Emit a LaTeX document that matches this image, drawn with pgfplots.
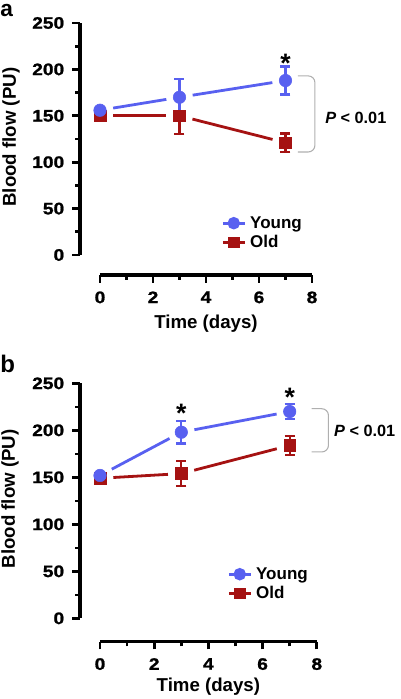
\documentclass[border=0pt]{standalone}
\usepackage{fontspec}
\setmainfont{Liberation Sans}
\newfontfamily\tickfont{Liberation Sans Bold}[FakeStretch=1.15, FakeBold=1.2]
\usepackage{pgfplots}
\pgfplotsset{compat=1.18}
\definecolor{myblue}{RGB}{88,96,240}
\definecolor{myred}{RGB}{165,18,18}
\definecolor{brk}{RGB}{175,175,175}
\tikzset{axln/.style={line width=2.6pt, black}}
\pgfplotsset{
  panel/.style={
    enlargelimits=false, clip=false,
    separate axis lines,
    axis x line*=bottom, axis y line*=left,
    axis line style={draw=none},
    tick align=outside,
    major tick length=5.8pt, minor tick length=3.4pt,
    every tick/.style={black, line width=2pt},
    xtick={0,2,4,6,8}, minor x tick num=1,
    ytick={0,50,100,150,200,250}, minor y tick num=1,
    xticklabel={\pgfmathprintnumber[assume math mode=true]{\tick}},
    yticklabel={\pgfmathprintnumber[assume math mode=true]{\tick}},
    ticklabel style={font=\tickfont\fontsize{12.5}{13}\selectfont, text=black},
    xticklabel style={yshift=-3pt},
    yticklabel style={xshift=-2.5pt},
    label style={font=\bfseries\fontsize{14}{16}\selectfont},
    legend style={draw=none, fill=none, inner sep=0pt, column sep=3pt, row sep=4pt,
      font=\bfseries\fontsize{12.75}{14}\selectfont, cells={anchor=west},
      nodes={inner sep=0pt}},
    legend image code/.code={\draw[mark repeat=2,mark phase=2,##1] plot coordinates {(0pt,0pt) (8.25pt,0pt) (16.5pt,0pt)};},
  },
  seg/.style={line width=2.1pt, shorten <=10pt, shorten >=10pt, forget plot},
  ebar/.style={only marks, forget plot, error bars/.cd, y dir=both, y explicit,
    error bar style={line width=1.7pt},
    error mark options={rotate=90, mark size=3.75pt, line width=1.7pt}},
}
\begin{document}
\begin{tikzpicture}
% ---------------- panel a ----------------
\begin{axis}[panel, x=19.875pt, y=0.696pt, xmin=-0.755, xmax=8, ymin=-21.6, ymax=250,
  at={(0pt,0pt)}, anchor=origin,
  xlabel={Time (days)}, ylabel={Blood flow (PU)},
  xlabel style={at={(axis cs:4,-79.7)}, anchor=base},
  ylabel style={at={(axis cs:-3.36,127)}, anchor=center},
  legend style={at={(axis cs:4.57,23.7)}, anchor=west}]
\draw[axln] (axis cs:-0.755,0) -- (axis cs:-0.755,250);
\draw[axln] (axis cs:0,-21.6) -- (axis cs:8,-21.6);
% connecting lines (Old, then Young)
\addplot[seg, myred] coordinates {(0,150) (3,150)};
\addplot[seg, myred] coordinates {(3,150) (7,121)};
\addplot[seg, myblue] coordinates {(0,156) (3,170)};
\addplot[seg, myblue] coordinates {(3,170) (7,188)};
% points with SEM
\addplot[myred, mark=square*, mark size=4.4pt, ebar] coordinates {(0,150) +- (0,3) (3,150) +- (0,20) (7,121) +- (0,10)};
\addplot[myblue, mark=*, mark size=4.7pt, ebar] coordinates {(0,156) +- (0,3) (3,170) +- (0,20) (7,188) +- (0,15)};
\addlegendimage{myblue, line width=2.1pt, mark=*, mark size=3.6pt}
\addlegendentry{Young}
\addlegendimage{myred, line width=2.1pt, mark=square*, mark size=3.4pt}
\addlegendentry{Old}
\node[anchor=north, inner sep=0pt, font=\bfseries\fontsize{20}{20}\selectfont] at (axis cs:7,216.6) {*};
\draw[brk, line width=0.8pt, rounded corners=5pt] (axis cs:7.47,193) -| (axis cs:8.11,111) -- (axis cs:7.47,111);
\node[anchor=west, inner sep=0pt, font=\bfseries\fontsize{12.2}{14}\selectfont] at (axis cs:8.49,147.6) {\textit{P} < 0.01};
\node[anchor=base west, inner sep=0pt, font=\bfseries\fontsize{17}{17}\selectfont] at (axis cs:-3.77,257) {a};
\end{axis}
% ---------------- panel b ----------------
\begin{axis}[panel, x=20.325pt, y=0.705pt, xmin=-0.74, xmax=8, ymin=-24.9, ymax=250,
  at={(0pt,-272.5pt)}, anchor=origin,
  xlabel={Time (days)}, ylabel={Blood flow (PU)},
  xlabel style={at={(axis cs:4,-78)}, anchor=base},
  ylabel style={at={(axis cs:-3.32,127)}, anchor=center},
  legend style={at={(axis cs:4.69,36.5)}, anchor=west}]
\draw[axln] (axis cs:-0.74,0) -- (axis cs:-0.74,250);
\draw[axln] (axis cs:0,-24.9) -- (axis cs:8,-24.9);
\addplot[seg, myred] coordinates {(0,149) (3,154)};
\addplot[seg, myred] coordinates {(3,154) (7,184)};
\addplot[seg, myblue] coordinates {(0,152) (3,198)};
\addplot[seg, myblue] coordinates {(3,198) (7,220)};
\addplot[myred, mark=square*, mark size=4.4pt, ebar] coordinates {(0,149) +- (0,3) (3,154) +- (0,13) (7,184) +- (0,10)};
\addplot[myblue, mark=*, mark size=4.7pt, ebar] coordinates {(0,152) +- (0,3) (3,198) +- (0,12) (7,220) +- (0,8)};
\addlegendimage{myblue, line width=2.1pt, mark=*, mark size=3.6pt}
\addlegendentry{Young}
\addlegendimage{myred, line width=2.1pt, mark=square*, mark size=3.4pt}
\addlegendentry{Old}
\node[anchor=north, inner sep=0pt, font=\bfseries\fontsize{20}{20}\selectfont] at (axis cs:3,227.7) {*};
\node[anchor=north, inner sep=0pt, font=\bfseries\fontsize{20}{20}\selectfont] at (axis cs:7,245.3) {*};
\draw[brk, line width=0.8pt, rounded corners=5pt] (axis cs:7.81,223) -| (axis cs:8.43,177) -- (axis cs:7.81,177);
\node[anchor=west, inner sep=0pt, font=\bfseries\fontsize{12.2}{14}\selectfont] at (axis cs:8.63,199.6) {\textit{P} < 0.01};
\node[anchor=base west, inner sep=0pt, font=\bfseries\fontsize{18}{18}\selectfont] at (axis cs:-3.69,261) {b};
\end{axis}
\pgfresetboundingbox
\path[use as bounding box] (-75pt,-333pt) rectangle (225pt,191.25pt);
\end{tikzpicture}
\end{document}
